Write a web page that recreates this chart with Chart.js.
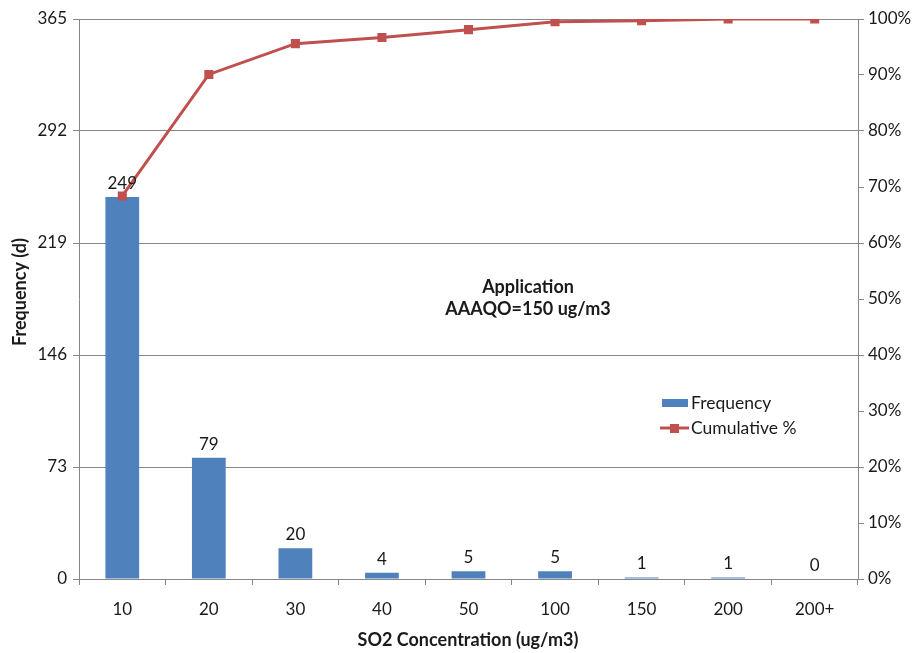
<!DOCTYPE html>
<html>
<head>
<meta charset="utf-8">
<script src="https://cdn.jsdelivr.net/npm/chart.js@4"></script>
<style>
html,body{margin:0;padding:0;background:#fff;}
#wrap{width:922px;height:653px;position:relative;}
</style>
</head>
<body>
<div id="wrap"><canvas id="c" width="922" height="653"></canvas></div>
<script>
const categories = ['10','20','30','40','50','100','150','200','200+'];
const frequency = [249, 79, 20, 4, 5, 5, 1, 1, 0];
const cumulativePct = [68.4, 90.1, 95.6, 96.7, 98.1, 99.5, 99.7, 100, 100];
const leftTicks = [0, 73, 146, 219, 292, 365];
const rightTicks = [0,10,20,30,40,50,60,70,80,90,100];
const seriesNames = ['Frequency', 'Cumulative %'];
const annotationLines = ['Application', 'AAAQO=150 ug/m3'];
const xTitle = 'SO2 Concentration (ug/m3)';
const yTitle = 'Frequency (d)';

const FONT = 'Lato, "Open Sans", sans-serif';
const BLUE = '#4F81BD';
const RED = '#C0504D';
const GRID = '#868686';
const TXT = '#1a1a1a';

const extras = {
  id: 'extras',
  afterDatasetsDraw(chart) {
    const ctx = chart.ctx;
    const meta = chart.getDatasetMeta(1);
    ctx.save();
    ctx.fillStyle = TXT;
    ctx.font = '17px ' + FONT;
    ctx.textAlign = 'center';
    ctx.textBaseline = 'bottom';
    meta.data.forEach((bar, i) => {
      ctx.fillText(String(frequency[i]), bar.x, bar.y - 5);
    });
    ctx.font = 'bold 18px ' + FONT;
    ctx.textBaseline = 'middle';
    ctx.fillText(annotationLines[0], 528, 287);
    ctx.fillText(annotationLines[1], 528, 309);
    ctx.fillStyle = BLUE;
    ctx.fillRect(662, 399, 26, 8);
    ctx.strokeStyle = RED;
    ctx.lineWidth = 3;
    ctx.beginPath(); ctx.moveTo(660, 428); ctx.lineTo(689, 428); ctx.stroke();
    ctx.fillStyle = RED;
    ctx.fillRect(670, 424, 9, 9);
    ctx.fillStyle = TXT;
    ctx.font = '17.5px ' + FONT;
    ctx.textAlign = 'left';
    ctx.fillText(seriesNames[0], 691, 403);
    ctx.fillText(seriesNames[1], 691, 428);
    ctx.font = 'bold 18px ' + FONT;
    ctx.textAlign = 'center';
    ctx.fillText(xTitle, 468, 640);
    ctx.save();
    ctx.translate(20, 292);
    ctx.rotate(-Math.PI / 2);
    ctx.fillText(yTitle, 0, 0);
    ctx.restore();
    ctx.restore();
  }
};

new Chart(document.getElementById('c'), {
  type: 'bar',
  data: {
    labels: categories,
    datasets: [
      {
        type: 'line',
        label: seriesNames[1],
        data: cumulativePct,
        yAxisID: 'y2',
        borderColor: RED,
        backgroundColor: RED,
        borderWidth: 3,
        pointStyle: 'rect',
        pointRadius: 6.4,
        pointBorderWidth: 0,
        tension: 0,
        order: 0
      },
      {
        type: 'bar',
        label: seriesNames[0],
        data: frequency,
        yAxisID: 'y',
        backgroundColor: BLUE,
        borderWidth: 0,
        barPercentage: 0.39,
        categoryPercentage: 1,
        minBarLength: 0,
        order: 1
      }
    ]
  },
  options: {
    responsive: false,
    animation: false,
    layout: { padding: { top: 19, left: 0, right: 0, bottom: 0 } },
    plugins: { legend: { display: false }, tooltip: { enabled: false } },
    scales: {
      x: {
        offset: true,
        afterFit(s) { s.height = 74; },
        grid: { offset: true, drawOnChartArea: false, drawTicks: true, tickLength: 6, color: GRID },
        border: { color: GRID, width: 1 },
        ticks: { color: TXT, font: { family: FONT, size: 17 }, padding: 14, maxRotation: 0 }
      },
      y: {
        position: 'left',
        min: 0, max: 365,
        afterFit(s) { s.width = 79; },
        afterBuildTicks(s) { s.ticks = leftTicks.map(v => ({ value: v })); },
        grid: { color: GRID, tickLength: 6, drawTicks: true },
        border: { color: GRID, width: 1 },
        ticks: { color: TXT, font: { family: FONT, size: 17 }, padding: 6 }
      },
      y2: {
        position: 'right',
        min: 0, max: 100,
        afterFit(s) { s.width = 64; },
        afterBuildTicks(s) { s.ticks = rightTicks.map(v => ({ value: v })); },
        grid: { drawOnChartArea: false, tickLength: 6, color: GRID },
        border: { color: GRID, width: 1 },
        ticks: { color: TXT, font: { family: FONT, size: 17 }, padding: 4, callback: v => v + '%' }
      }
    }
  },
  plugins: [extras]
});
</script>
</body>
</html>
